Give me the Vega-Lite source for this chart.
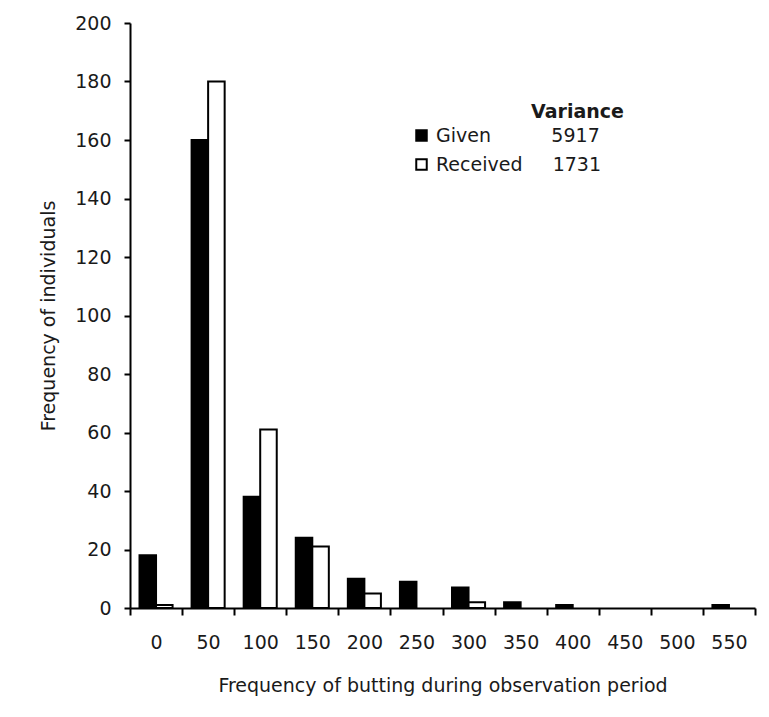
{
  "$schema": "https://vega.github.io/schema/vega-lite/v6.json",
  "width": 625,
  "height": 585,
  "autosize": {"type": "none"},
  "padding": {"left": 130, "top": 23, "right": 14, "bottom": 109},
  "background": "white",
  "config": {
    "view": {"stroke": null},
    "font": "DejaVu Sans",
    "axis": {
      "domainColor": "black",
      "domainWidth": 2,
      "tickColor": "black",
      "tickWidth": 2,
      "tickSize": 7,
      "labelFontSize": 19,
      "labelColor": "#1a1a1a",
      "titleFontSize": 19,
      "titleFontWeight": "normal",
      "titleColor": "#1a1a1a",
      "grid": false
    }
  },
  "data": {
    "values": [
      {"bin": 0, "series": "Given", "count": 18},
      {"bin": 0, "series": "Received", "count": 1},
      {"bin": 50, "series": "Given", "count": 160},
      {"bin": 50, "series": "Received", "count": 180},
      {"bin": 100, "series": "Given", "count": 38},
      {"bin": 100, "series": "Received", "count": 61},
      {"bin": 150, "series": "Given", "count": 24},
      {"bin": 150, "series": "Received", "count": 21},
      {"bin": 200, "series": "Given", "count": 10},
      {"bin": 200, "series": "Received", "count": 5},
      {"bin": 250, "series": "Given", "count": 9},
      {"bin": 250, "series": "Received", "count": 0},
      {"bin": 300, "series": "Given", "count": 7},
      {"bin": 300, "series": "Received", "count": 2},
      {"bin": 350, "series": "Given", "count": 2},
      {"bin": 350, "series": "Received", "count": 0},
      {"bin": 400, "series": "Given", "count": 1},
      {"bin": 400, "series": "Received", "count": 0},
      {"bin": 450, "series": "Given", "count": 0},
      {"bin": 450, "series": "Received", "count": 0},
      {"bin": 500, "series": "Given", "count": 0},
      {"bin": 500, "series": "Received", "count": 0},
      {"bin": 550, "series": "Given", "count": 1},
      {"bin": 550, "series": "Received", "count": 0}
    ]
  },
  "mark": {"type": "bar", "stroke": "black", "strokeWidth": 2},
  "encoding": {
    "x": {
      "field": "bin",
      "type": "ordinal",
      "scale": {"paddingInner": 0, "paddingOuter": 0},
      "axis": {
        "title": "Frequency of butting during observation period",
        "labelAngle": 0,
        "tickBand": "extent",
        "labelPadding": 18,
        "titlePadding": 24
      }
    },
    "xOffset": {
      "field": "series",
      "type": "nominal",
      "sort": ["Given", "Received"],
      "scale": {"paddingOuter": 0.575, "paddingInner": 0}
    },
    "y": {
      "field": "count",
      "type": "quantitative",
      "scale": {"domain": [0, 200]},
      "axis": {
        "title": "Frequency of individuals",
        "values": [0, 20, 40, 60, 80, 100, 120, 140, 160, 180, 200],
        "labelPadding": 13,
        "titlePadding": 16,
        "tickSize": 6
      }
    },
    "strokeOpacity": {
      "condition": {"test": "datum.count == 0", "value": 0},
      "value": 1
    },
    "fill": {
      "field": "series",
      "type": "nominal",
      "scale": {"domain": ["Given", "Received"], "range": ["black", "white"]},
      "legend": {
        "title": "\u200b\u00a0\u00a0\u00a0\u00a0\u00a0\u00a0\u00a0\u00a0\u00a0\u00a0\u00a0\u00a0\u00a0\u00a0\u00a0\u00a0\u00a0\u00a0Variance",
        "orient": "none",
        "legendX": 282,
        "legendY": 80,
        "padding": 0,
        "titleFontSize": 19,
        "titleFontWeight": "bold",
        "titleColor": "#1a1a1a",
        "titleAnchor": "start",
        "titlePadding": 4,
        "titleLimit": 400,
        "labelFontSize": 19,
        "labelColor": "#1a1a1a",
        "labelLimit": 400,
        "labelOffset": 5,
        "rowPadding": 9,
        "symbolType": "square",
        "symbolSize": 110,
        "symbolStrokeColor": "black",
        "symbolStrokeWidth": 2,
        "labelExpr": "datum.label == 'Given' ? 'Given\u00a0\u00a0\u00a0\u00a0\u00a0\u00a0\u00a0\u00a0\u00a0\u00a05917' : 'Received\u00a0\u00a0\u00a0\u00a0\u00a01731'"
      }
    }
  }
}
